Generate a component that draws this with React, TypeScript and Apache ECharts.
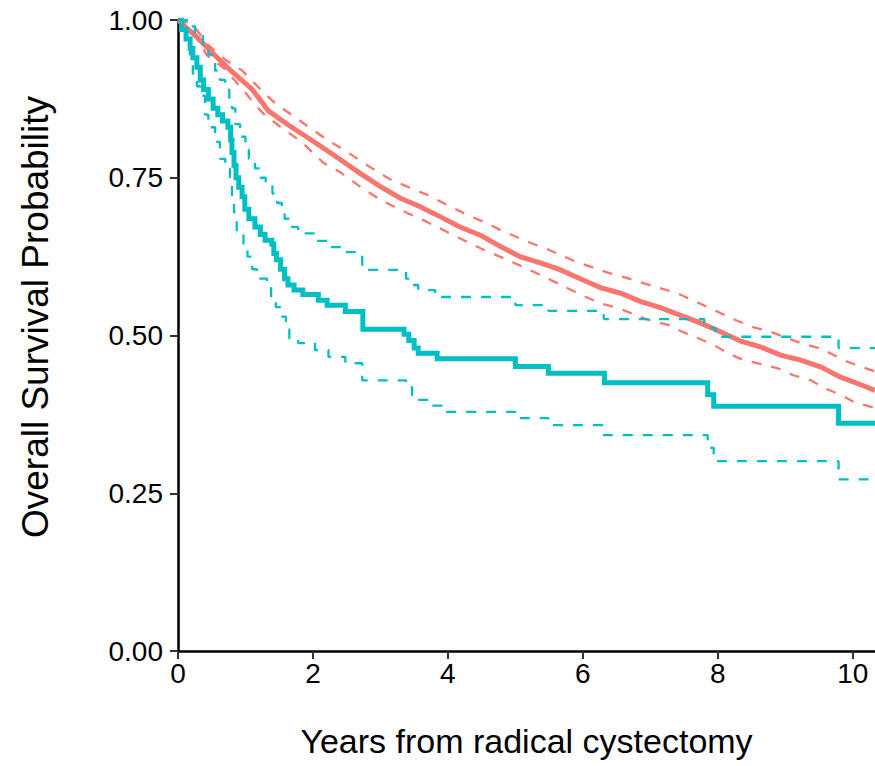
import React, { useEffect, useRef } from "react";
import * as echarts from "echarts";

// Kaplan-Meier curves: [years, survival probability]
const tealMain: number[][] = [
  [0, 1], [0.05, 0.985], [0.12, 0.97], [0.18, 0.955], [0.22, 0.94], [0.28, 0.925],
  [0.33, 0.905], [0.38, 0.89], [0.45, 0.875], [0.52, 0.86], [0.59, 0.85], [0.66, 0.84],
  [0.74, 0.83], [0.78, 0.81], [0.8, 0.79], [0.83, 0.77], [0.86, 0.75], [0.9, 0.735],
  [0.95, 0.72], [0.99, 0.7], [1.05, 0.685], [1.14, 0.672], [1.22, 0.66], [1.29, 0.651],
  [1.39, 0.645], [1.42, 0.63], [1.46, 0.62], [1.52, 0.605], [1.58, 0.59], [1.63, 0.58],
  [1.72, 0.572], [1.85, 0.565], [2.08, 0.556], [2.21, 0.548], [2.48, 0.538], [2.74, 0.51],
  [3.35, 0.502], [3.42, 0.492], [3.5, 0.48], [3.56, 0.472], [3.84, 0.463], [5.0, 0.451],
  [5.49, 0.44], [6.32, 0.425], [7.85, 0.406], [7.94, 0.388], [9.79, 0.361], [10.33, 0.361],
];
const tealUpper: number[][] = [
  [0, 1], [0.15, 0.99], [0.25, 0.975], [0.37, 0.955], [0.45, 0.945], [0.5, 0.935],
  [0.55, 0.92], [0.62, 0.905], [0.7, 0.895], [0.76, 0.875], [0.8, 0.86], [0.85, 0.835],
  [0.92, 0.815], [1.0, 0.795], [1.05, 0.78], [1.14, 0.765], [1.22, 0.75], [1.3, 0.74],
  [1.4, 0.725], [1.47, 0.71], [1.54, 0.7], [1.58, 0.685], [1.64, 0.672], [1.78, 0.662],
  [2.03, 0.65], [2.23, 0.64], [2.48, 0.632], [2.73, 0.604], [3.38, 0.59], [3.45, 0.58],
  [3.56, 0.572], [3.81, 0.561], [5.0, 0.548], [5.49, 0.539], [6.31, 0.526], [7.8, 0.512],
  [7.97, 0.498], [9.79, 0.48], [10.33, 0.48],
];
const tealLower: number[][] = [
  [0, 1], [0.08, 0.985], [0.13, 0.97], [0.18, 0.945], [0.22, 0.915], [0.28, 0.895],
  [0.33, 0.88], [0.4, 0.85], [0.45, 0.83], [0.55, 0.807], [0.62, 0.78], [0.7, 0.765],
  [0.77, 0.745], [0.8, 0.72], [0.83, 0.695], [0.87, 0.665], [0.97, 0.643], [1.03, 0.625],
  [1.1, 0.605], [1.17, 0.59], [1.32, 0.575], [1.38, 0.56], [1.45, 0.545], [1.54, 0.53],
  [1.6, 0.51], [1.65, 0.495], [1.78, 0.488], [2.03, 0.477], [2.23, 0.466], [2.48, 0.456],
  [2.73, 0.429], [3.38, 0.418], [3.47, 0.405], [3.55, 0.398], [3.78, 0.389], [3.95, 0.379],
  [5.0, 0.369], [5.49, 0.358], [6.31, 0.342], [7.85, 0.322], [7.94, 0.301], [9.79, 0.272],
  [10.33, 0.272],
];
const redMain: number[][] = [
  [0, 1], [0.1, 0.99], [0.25, 0.976], [0.5, 0.949], [0.8, 0.918], [1.1, 0.89],
  [1.34, 0.856], [1.63, 0.834], [1.93, 0.813], [2.28, 0.788], [2.7, 0.757], [3.0, 0.736],
  [3.29, 0.718], [3.59, 0.704], [3.89, 0.688], [4.18, 0.672], [4.48, 0.659], [4.78, 0.641],
  [5.07, 0.625], [5.37, 0.615], [5.67, 0.604], [5.96, 0.59], [6.26, 0.576], [6.56, 0.567],
  [6.85, 0.554], [7.15, 0.544], [7.45, 0.532], [7.74, 0.52], [8.04, 0.506], [8.34, 0.491],
  [8.63, 0.482], [8.93, 0.469], [9.23, 0.461], [9.53, 0.45], [9.82, 0.434], [10.12, 0.422],
  [10.33, 0.413],
];
const redUpper: number[][] = [
  [0, 1], [0.2, 0.995], [0.45, 0.96], [0.7, 0.937], [0.95, 0.92], [1.25, 0.887],
  [1.44, 0.868], [1.84, 0.838], [2.21, 0.81], [2.45, 0.795], [2.8, 0.77], [3.15, 0.747],
  [3.44, 0.734], [3.69, 0.723], [4.08, 0.702], [4.33, 0.689], [4.58, 0.678], [4.78, 0.667],
  [5.22, 0.647], [5.47, 0.637], [5.92, 0.616], [6.36, 0.6], [6.66, 0.591], [7.11, 0.576],
  [7.4, 0.567], [7.85, 0.545], [8.23, 0.526], [8.53, 0.513], [8.78, 0.506], [9.23, 0.488],
  [9.53, 0.479], [9.93, 0.458], [10.33, 0.443],
];
const redLower: number[][] = [
  [0, 1], [0.2, 0.985], [0.43, 0.944], [0.7, 0.922], [0.99, 0.886], [1.14, 0.866],
  [1.29, 0.849], [1.54, 0.829], [1.84, 0.806], [2.15, 0.774], [2.4, 0.759], [2.7, 0.736],
  [3.0, 0.715], [3.4, 0.694], [3.69, 0.68], [3.99, 0.664], [4.29, 0.648], [4.53, 0.636],
  [4.88, 0.62], [5.27, 0.601], [5.62, 0.583], [5.96, 0.565], [6.26, 0.551], [6.51, 0.544],
  [6.96, 0.525], [7.26, 0.517], [7.45, 0.507], [7.7, 0.496], [7.94, 0.485], [8.15, 0.472],
  [8.38, 0.461], [8.59, 0.456], [8.89, 0.448], [9.12, 0.437], [9.38, 0.429], [9.57, 0.417],
  [9.82, 0.406], [10.01, 0.395], [10.33, 0.385],
];

const xTicks = [0, 2, 4, 6, 8, 10];
const yTicks = [0, 0.25, 0.5, 0.75, 1];
const xTitle = "Years from radical cystectomy";
const yTitle = "Overall Survival Probability";

const RED = "#F8766D";
const TEAL = "#00BFC4";
const FONT = "Liberation Sans, Arial, sans-serif";

export default function App() {
  const ref = useRef<HTMLDivElement>(null);
  useEffect(() => {
    if (!ref.current) return;
    const chart = echarts.init(ref.current, undefined, { renderer: "svg" });
    const mainLine = (name: string, data: number[][], color: string, step: any) => ({
      name,
      type: "line",
      data,
      step,
      showSymbol: false,
      symbol: "none",
      lineStyle: { color, width: 5, cap: "butt", join: "miter" },
      z: 2,
    });
    const ciLine = (name: string, data: number[][], color: string, step: any) => ({
      name,
      type: "line",
      data,
      step,
      showSymbol: false,
      symbol: "none",
      lineStyle: { color, width: 2.3, type: [10, 10], cap: "butt" },
      z: 3,
    });
    chart.setOption({
      animation: false,
      backgroundColor: "#ffffff",
      grid: { left: 178, right: 0, top: 20, bottom: 115, containLabel: false },
      xAxis: {
        type: "value",
        min: 0,
        max: 10.33,
        interval: 2,
        name: xTitle,
        nameLocation: "middle",
        nameGap: 73,
        nameTextStyle: { fontSize: 34, color: "#000", fontFamily: FONT },
        axisLine: { show: true, onZero: false, lineStyle: { color: "#000", width: 2.5 } },
        axisTick: { show: true, length: 8, customValues: xTicks, lineStyle: { color: "#333", width: 2 } },
        axisLabel: {
          customValues: xTicks,
          fontSize: 28,
          color: "#000",
          fontFamily: FONT,
          margin: 8,
          formatter: (v: number) => String(v),
        },
        splitLine: { show: false },
      },
      yAxis: {
        type: "value",
        min: 0,
        max: 1,
        interval: 0.25,
        axisLine: { show: true, onZero: false, lineStyle: { color: "#000", width: 2.5 } },
        axisTick: { show: true, length: 8, customValues: yTicks, lineStyle: { color: "#333", width: 2 } },
        axisLabel: {
          customValues: yTicks,
          fontSize: 28,
          color: "#000",
          fontFamily: FONT,
          margin: 15,
          formatter: (v: number) => v.toFixed(2),
        },
        splitLine: { show: false },
      },
      graphic: [
        {
          type: "text",
          x: 35,
          y: 317,
          rotation: Math.PI / 2,
          style: {
            text: yTitle,
            fontSize: 37,
            fontFamily: FONT,
            fill: "#000",
            align: "center",
            verticalAlign: "middle",
          },
        },
      ],
      series: [
        mainLine("Main (red)", redMain, RED, false),
        mainLine("Main (teal)", tealMain, TEAL, "end"),
        ciLine("Upper (red)", redUpper, RED, false),
        ciLine("Lower (red)", redLower, RED, false),
        ciLine("Upper (teal)", tealUpper, TEAL, "end"),
        ciLine("Lower (teal)", tealLower, TEAL, "end"),
      ],
    });
    return () => chart.dispose();
  }, []);
  return (
    <div
      ref={ref}
      style={{ position: "fixed", left: 0, top: 0, width: 875, height: 766, background: "#fff" }}
    />
  );
}
